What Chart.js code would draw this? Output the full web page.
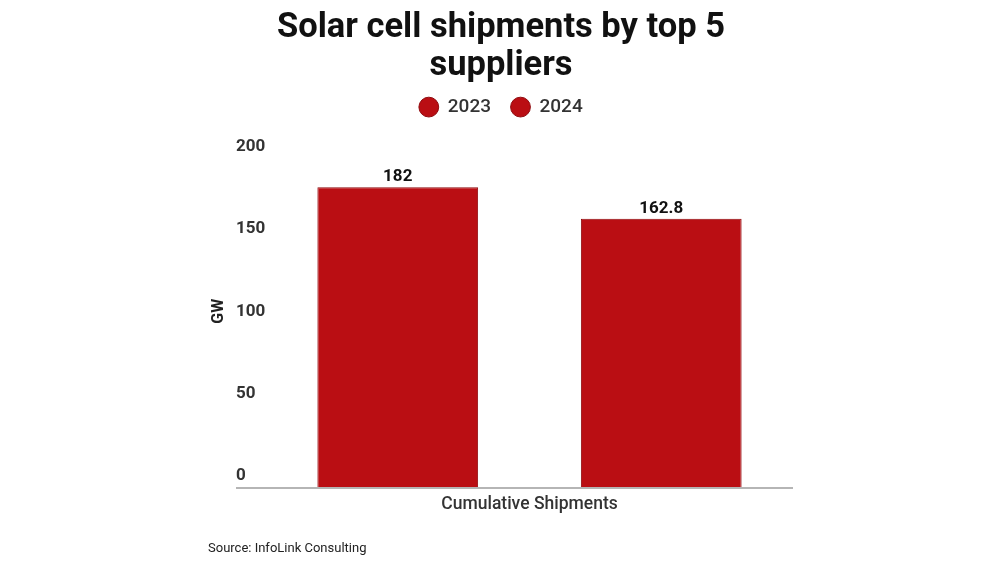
<!DOCTYPE html>
<html>
<head>
<meta charset="utf-8">
<script src="https://cdn.jsdelivr.net/npm/chart.js@4"></script>
<style>
html,body{margin:0;padding:0;background:#fff;}
#wrap{width:1000px;height:563px;position:relative;}
</style>
</head>
<body>
<div id="wrap"><canvas id="c" width="1000" height="563"></canvas></div>
<script>
const categories = ["Cumulative Shipments"];
const seriesNames = ["2023", "2024"];
const values2023 = [182];
const values2024 = [162.8];
const yTicks = [0, 50, 100, 150, 200];
const titleLines = ["Solar cell shipments by top 5", "suppliers"];
const yTitle = "GW";
const sourceText = "Source: InfoLink Consulting";

const barColor = "#BA0E13";
const barBorder = "#8F0A0E";
const headerShift = -13.5;

const extras = {
  id: "extras",
  beforeInit(chart) {
    const lg = chart.legend;
    if (lg) {
      const f = lg.fit;
      lg.fit = function () { f.call(this); this.height += 31; };
    }
  },
  afterLayout(chart) {
    [chart.titleBlock, chart.legend].forEach(b => {
      if (b) { b.left += headerShift; b.right += headerShift; }
    });
  },
  beforeDatasetsDraw(chart) {
    const ctx = chart.ctx;
    const y = chart.scales.y;
    const ca = chart.chartArea;
    ctx.save();
    ctx.strokeStyle = "#b5b5b5";
    ctx.lineWidth = 2;
    ctx.beginPath();
    ctx.moveTo(y.left, ca.bottom + 1);
    ctx.lineTo(ca.right, ca.bottom + 1);
    ctx.stroke();
    ctx.restore();
  },
  afterDatasetsDraw(chart) {
    const ctx = chart.ctx;
    ctx.save();
    ctx.font = "bold 17px Roboto";
    ctx.fillStyle = "#111";
    ctx.textAlign = "center";
    ctx.textBaseline = "alphabetic";
    chart.data.datasets.forEach((ds, i) => {
      const meta = chart.getDatasetMeta(i);
      meta.data.forEach((el, j) => {
        ctx.fillText(String(ds.data[j]), el.x, el.y - 6);
      });
    });
    // y axis title
    const ys = chart.scales.y;
    ctx.save();
    ctx.translate(219, ys.getPixelForValue(100) - 11);
    ctx.rotate(-Math.PI / 2);
    ctx.font = "bold 16px Roboto";
    ctx.fillStyle = "#222";
    ctx.textAlign = "center";
    ctx.textBaseline = "middle";
    ctx.fillText(yTitle, 0, 0);
    ctx.restore();
    // source
    ctx.font = "13px Roboto";
    ctx.fillStyle = "#222";
    ctx.textAlign = "left";
    ctx.textBaseline = "middle";
    ctx.fillText(sourceText, 208, 549);
    ctx.restore();
  }
};

new Chart(document.getElementById("c"), {
  type: "bar",
  data: {
    labels: categories,
    datasets: [
      { label: seriesNames[0], data: values2023, backgroundColor: barColor, borderColor: barBorder, borderWidth: 1 },
      { label: seriesNames[1], data: values2024, backgroundColor: barColor, borderColor: barBorder, borderWidth: 1 }
    ]
  },
  options: {
    responsive: false,
    animation: false,
    devicePixelRatio: 1,
    layout: { padding: { left: 236, right: 207, top: 4, bottom: 36 } },
    datasets: { bar: { categoryPercentage: 1.0, barPercentage: 0.61 } },
    plugins: {
      title: {
        display: true,
        text: titleLines,
        color: "#111",
        font: { family: "Roboto", size: 34.5, weight: "bold", lineHeight: 1.11 },
        padding: { top: 5, bottom: -8 }
      },
      legend: {
        display: true,
        labels: {
          usePointStyle: true,
          pointStyle: "circle",
          boxHeight: 14,
          color: "#333",
          padding: 20,
          font: { family: "Roboto", size: 19, weight: "500" }
        }
      },
      tooltip: { enabled: false }
    },
    scales: {
      x: {
        grid: { display: false, drawTicks: false },
        border: { display: false },
        ticks: { color: "#333", padding: 7, font: { family: "Roboto", size: 17.5, weight: "500" } },
        afterFit(s) { s.height = 40; }
      },
      y: {
        min: 0, max: 200,
        grid: { display: false, drawTicks: false },
        border: { display: false },
        afterBuildTicks(s) { s.ticks = yTicks.map(v => ({ value: v })); },
        ticks: {
          color: "#333",
          crossAlign: "far",
          labelOffset: -11,
          font: { family: "Roboto", size: 17, weight: "bold" }
        },
        afterFit(s) { s.width = 30; }
      }
    }
  },
  plugins: [extras]
});
</script>
</body>
</html>
